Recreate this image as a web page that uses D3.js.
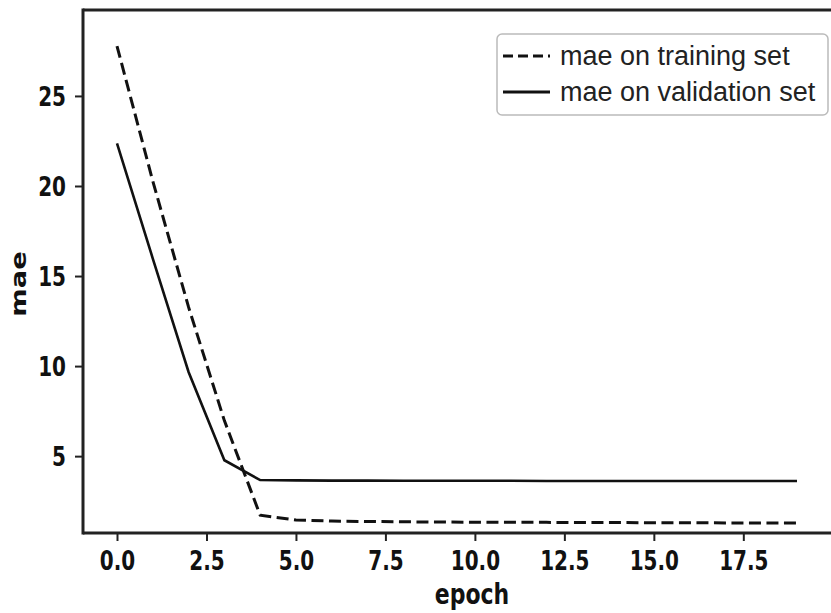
<!DOCTYPE html>
<html lang="en">
<head>
    <meta charset="UTF-8">
    <title>mae per epoch</title>
    <script src="https://d3js.org/d3.v7.min.js"></script>
    <style>
        body { margin: 0; background: #fff; }
        .tick text {
            font-family: "DejaVu Sans", sans-serif;
            font-weight: bold;
            font-size: 20px;
            fill: #111;
        }
        .axis-label {
            font-family: "DejaVu Sans", sans-serif;
            font-weight: bold;
            fill: #111;
        }
        .legend text {
            font-family: "Liberation Sans", Arial, sans-serif;
            font-size: 27px;
            fill: #222;
        }
    </style>
</head>
<body>
<svg width="831" height="613"></svg>

<script>
    // values
    const epochs = [0, 1, 2, 3, 4, 5, 6, 7, 8, 9, 10, 11, 12, 13, 14, 15, 16, 17, 18, 19];
    const trainMae = [27.8, 20.3, 13.3, 7.0, 1.75, 1.48, 1.42, 1.40, 1.38, 1.37,
                      1.36, 1.35, 1.35, 1.34, 1.34, 1.33, 1.33, 1.32, 1.32, 1.32];
    const valMae = [22.4, 16.0, 9.7, 4.8, 3.7, 3.68, 3.67, 3.67, 3.66, 3.66,
                    3.66, 3.66, 3.65, 3.65, 3.65, 3.65, 3.65, 3.65, 3.65, 3.65];
    const xTicks = [0, 2.5, 5, 7.5, 10, 12.5, 15, 17.5];
    const yTicks = [5, 10, 15, 20, 25];
    const seriesNames = ["mae on training set", "mae on validation set"];

    const width = 831;
    const height = 613;
    const plotLeft = 83, plotRight = 831, plotTop = 10, plotBottom = 533;
    const stretch = 1.3;   // the source picture is squeezed, text looks tall

    const svg = d3.select("svg")
        .attr("width", width)
        .attr("height", height);

    const x = d3.scaleLinear().domain([-0.95, 19.95]).range([plotLeft, plotRight]);
    const y = d3.scaleLinear().domain([0.76, 29.8]).range([plotBottom, plotTop]);

    // axes
    const xAxis = svg.append("g")
        .attr("transform", `translate(0,${plotBottom})`)
        .call(d3.axisBottom(x).tickValues(xTicks).tickFormat(d3.format(".1f"))
            .tickSize(8).tickPadding(0));
    xAxis.select(".domain").remove();
    xAxis.selectAll(".tick line").attr("stroke", "#222").attr("stroke-width", 2);
    xAxis.selectAll(".tick text")
        .attr("y", 28 / stretch)
        .attr("dy", "0.36em")
        .attr("transform", `scale(1,${stretch})`);

    const yAxis = svg.append("g")
        .attr("transform", `translate(${plotLeft},0)`)
        .call(d3.axisLeft(y).tickValues(yTicks).tickSize(8).tickPadding(0));
    yAxis.select(".domain").remove();
    yAxis.selectAll(".tick line").attr("stroke", "#222").attr("stroke-width", 2);
    yAxis.selectAll(".tick").each(function(d) {
        d3.select(this).attr("transform", null);
        d3.select(this).select("line").attr("y1", y(d)).attr("y2", y(d));
        d3.select(this).select("text")
            .attr("x", -17)
            .attr("y", y(d) / stretch)
            .attr("dy", "0.36em")
            .attr("transform", `scale(1,${stretch})`);
    });

    // spines (no right one, picture is cut there)
    svg.append("line").attr("x1", plotLeft).attr("x2", plotRight).attr("y1", plotTop).attr("y2", plotTop)
        .attr("stroke", "#222").attr("stroke-width", 3);
    svg.append("line").attr("x1", plotLeft).attr("x2", plotRight).attr("y1", plotBottom).attr("y2", plotBottom)
        .attr("stroke", "#222").attr("stroke-width", 3);
    svg.append("line").attr("x1", plotLeft).attr("x2", plotLeft)
        .attr("y1", plotTop - 1.5).attr("y2", plotBottom + 1.5)
        .attr("stroke", "#222").attr("stroke-width", 3);

    // lines
    const line = d3.line()
        .x((d, i) => x(epochs[i]))
        .y(d => y(d));

    svg.append("path")
        .datum(trainMae)
        .attr("d", line)
        .attr("fill", "none")
        .attr("stroke", "#111")
        .attr("stroke-width", 3)
        .attr("stroke-dasharray", "12,5.5");

    svg.append("path")
        .datum(valMae)
        .attr("d", line)
        .attr("fill", "none")
        .attr("stroke", "#111")
        .attr("stroke-width", 2.6);

    // axis labels
    svg.append("text")
        .attr("class", "axis-label")
        .attr("text-anchor", "middle")
        .attr("font-size", 22)
        .attr("transform", `translate(472,604) scale(1,${stretch})`)
        .text("epoch");

    svg.append("text")
        .attr("class", "axis-label")
        .attr("text-anchor", "middle")
        .attr("font-size", 21)
        .attr("transform", `translate(26,284) rotate(-90) scale(${stretch},1)`)
        .text("mae");

    // legend
    const legend = svg.append("g").attr("class", "legend");
    legend.append("rect")
        .attr("x", 497).attr("y", 34)
        .attr("width", 331).attr("height", 81)
        .attr("rx", 5)
        .attr("fill", "#fff")
        .attr("stroke", "#bbb")
        .attr("stroke-width", 1.5);

    const items = legend.selectAll("g.item")
        .data(seriesNames)
        .enter().append("g")
        .attr("class", "item")
        .attr("transform", (d, i) => `translate(0,${56 + i * 36})`);

    items.append("line")
        .attr("x1", 503).attr("x2", 550)
        .attr("stroke", "#111")
        .attr("stroke-width", 3)
        .attr("stroke-dasharray", (d, i) => i === 0 ? "10,5" : null);

    items.append("text")
        .attr("x", 560)
        .attr("y", 9)
        .text(d => d);
</script>

</body>
</html>
